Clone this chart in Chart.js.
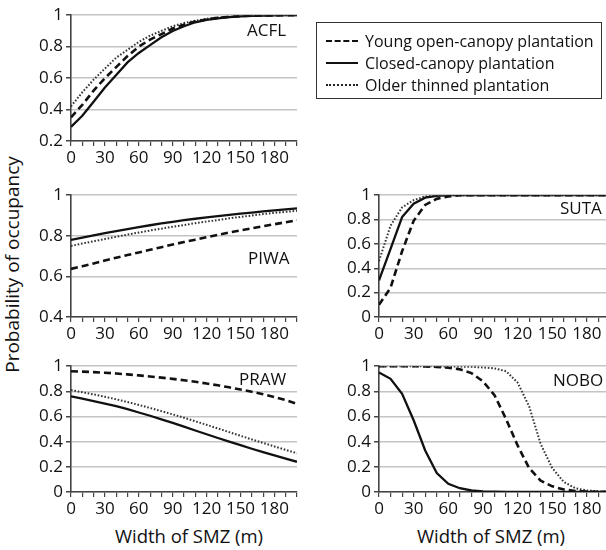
<!DOCTYPE html>
<html><head><meta charset="utf-8">
<script src="https://cdn.jsdelivr.net/npm/chart.js@4"></script>
<style>
html,body{margin:0;padding:0;background:#fff;overflow:hidden;width:606px;height:550px;}
body{position:relative;font-family:'Open Sans',sans-serif;color:#111;}
canvas{position:absolute;}
.lab{position:absolute;font-size:17px;line-height:1;white-space:nowrap;}
.xt{position:absolute;font-size:18.5px;line-height:1;width:240px;text-align:center;white-space:nowrap;}
.yt{position:absolute;font-size:19px;line-height:1;width:300px;text-align:center;white-space:nowrap;transform:rotate(-90deg);}
#legend{position:absolute;left:316px;top:22px;width:284px;height:75px;border:1.5px solid #333;}
.row{position:absolute;left:0;height:20px;font-size:16px;line-height:20px;white-space:nowrap;}
.row span.s{position:absolute;left:9px;top:9px;width:32px;height:0;}
.row span.t{position:absolute;left:48px;top:0;}
</style></head><body>

<canvas id="cACFL" width="277" height="167" style="left:25px;top:2px"></canvas>
<canvas id="cPIWA" width="277" height="163" style="left:25px;top:182px"></canvas>
<canvas id="cPRAW" width="277" height="167" style="left:25px;top:353px"></canvas>
<canvas id="cSUTA" width="282" height="163" style="left:333px;top:182px"></canvas>
<canvas id="cNOBO" width="282" height="167" style="left:333px;top:353px"></canvas>

<div class="lab" style="left:247px;top:21px">ACFL</div>
<div class="lab" style="left:248px;top:249px">PIWA</div>
<div class="lab" style="left:239px;top:370px">PRAW</div>
<div class="lab" style="left:560px;top:199px">SUTA</div>
<div class="lab" style="left:553px;top:371px">NOBO</div>

<div class="xt" style="left:69px;top:527px">Width of SMZ (m)</div>
<div class="xt" style="left:371px;top:527px">Width of SMZ (m)</div>
<div class="yt" style="left:-138px;top:255px">Probability of occupancy</div>

<div id="legend">
  <div class="row" style="top:8px"><span class="s" style="border-top:2.5px dashed #111"></span><span class="t">Young open-canopy plantation</span></div>
  <div class="row" style="top:30px"><span class="s" style="border-top:2.2px solid #111"></span><span class="t">Closed-canopy plantation</span></div>
  <div class="row" style="top:52px"><span class="s" style="border-top:2px dotted #222"></span><span class="t">Older thinned plantation</span></div>
</div>

<script>
// Width of SMZ (m)
const widths = [0,10,20,30,40,50,60,70,80,90,100,110,120,130,140,150,160,170,180,190,200];
const xTickLabels = [0,30,60,90,120,150,180];

// ACFL
const acflYoung  = [0.35,0.43,0.52,0.60,0.67,0.74,0.80,0.845,0.88,0.915,0.94,0.96,0.973,0.983,0.99,0.994,0.997,0.998,0.999,1,1];
const acflClosed = [0.29,0.36,0.45,0.54,0.62,0.70,0.76,0.81,0.86,0.90,0.93,0.955,0.97,0.98,0.988,0.993,0.996,0.998,0.999,1,1];
const acflOlder  = [0.42,0.51,0.59,0.66,0.73,0.78,0.83,0.87,0.90,0.93,0.95,0.965,0.977,0.985,0.99,0.994,0.997,0.998,0.999,1,1];

// PIWA
const piwaYoung  = [0.637,0.65,0.664,0.678,0.692,0.705,0.718,0.731,0.744,0.757,0.769,0.781,0.793,0.805,0.816,0.827,0.837,0.847,0.857,0.867,0.877];
const piwaClosed = [0.78,0.791,0.802,0.813,0.823,0.833,0.843,0.852,0.861,0.869,0.877,0.884,0.891,0.897,0.903,0.909,0.914,0.92,0.925,0.93,0.935];
const piwaOlder  = [0.75,0.762,0.773,0.784,0.795,0.806,0.816,0.826,0.835,0.845,0.853,0.862,0.87,0.878,0.886,0.893,0.90,0.907,0.913,0.918,0.923];

// PRAW
const prawYoung  = [0.96,0.957,0.953,0.948,0.942,0.935,0.927,0.918,0.909,0.899,0.888,0.876,0.862,0.848,0.832,0.815,0.797,0.777,0.755,0.73,0.70];
const prawClosed = [0.76,0.742,0.723,0.703,0.682,0.658,0.632,0.606,0.578,0.549,0.519,0.489,0.459,0.429,0.40,0.372,0.344,0.317,0.291,0.265,0.24];
const prawOlder  = [0.81,0.793,0.776,0.757,0.737,0.715,0.692,0.668,0.643,0.617,0.59,0.562,0.534,0.505,0.476,0.447,0.418,0.39,0.362,0.335,0.308];

// SUTA
const sutaYoung  = [0.10,0.24,0.54,0.79,0.92,0.97,0.99,1,1,1,1,1,1,1,1,1,1,1,1,1,1];
const sutaClosed = [0.30,0.56,0.82,0.93,0.98,0.995,1,1,1,1,1,1,1,1,1,1,1,1,1,1,1];
const sutaOlder  = [0.46,0.75,0.90,0.96,0.99,1,1,1,1,1,1,1,1,1,1,1,1,1,1,1,1];

// NOBO
const noboYoung  = [1,1,1,1,0.998,0.995,0.988,0.975,0.945,0.88,0.77,0.58,0.37,0.19,0.09,0.045,0.02,0.008,0.003,0.001,0];
const noboClosed = [0.95,0.90,0.78,0.57,0.33,0.15,0.065,0.03,0.012,0.005,0.002,0.001,0,0,0,0,0,0,0,0,0];
const noboOlder  = [1,1,1,1,1,0.999,0.998,0.997,0.995,0.99,0.983,0.96,0.87,0.68,0.38,0.19,0.08,0.03,0.012,0.005,0.002];

Chart.defaults.font.family = "'Open Sans', sans-serif";
Chart.defaults.color = '#111';

function series(arr){ return widths.map((x,i)=>({x:x, y:arr[i]})); }

function panel(id, yMin, young, closed, older){
  const ctx = document.getElementById(id);
  return new Chart(ctx, {
    type:'line',
    data:{datasets:[
      {label:'Young open-canopy plantation', data:series(young), borderColor:'#111', borderWidth:2.6, borderDash:[7,4], pointRadius:0, tension:0, fill:false},
      {label:'Closed-canopy plantation', data:series(closed), borderColor:'#111', borderWidth:2.3, pointRadius:0, tension:0, fill:false},
      {label:'Older thinned plantation', data:series(older), borderColor:'#333', borderWidth:2, borderDash:[1.6,1.8], pointRadius:0, tension:0, fill:false}
    ]},
    options:{
      responsive:false, animation:false, devicePixelRatio:1,
      layout:{padding:{top:12,right:5,left:0,bottom:0}},
      plugins:{legend:{display:false}, tooltip:{enabled:false}},
      scales:{
        x:{type:'linear', min:0, max:200,
          afterFit:s=>{s.height=28;},
          ticks:{stepSize:10, autoSkip:false, maxRotation:0, padding:2, font:{size:17},
            callback:v=> xTickLabels.includes(v) ? String(v) : ''},
          grid:{drawOnChartArea:false, drawTicks:true, tickLength:5, color:'#444', lineWidth:1.2},
          border:{display:true, color:'#444', width:1.6}
        },
        y:{min:yMin, max:1,
          afterFit:s=>{s.width=46;},
          ticks:{stepSize:0.2, padding:3, font:{size:17}, callback:v=> String(+v.toFixed(1))},
          grid:{color:'#c4c4c4', lineWidth:1.5, tickLength:5, tickColor:'#444', drawTicks:true},
          border:{display:true, color:'#444', width:1.6}
        }
      }
    }
  });
}

panel('cACFL', 0.2, acflYoung, acflClosed, acflOlder);
panel('cPIWA', 0.4, piwaYoung, piwaClosed, piwaOlder);
panel('cPRAW', 0, prawYoung, prawClosed, prawOlder);
panel('cSUTA', 0, sutaYoung, sutaClosed, sutaOlder);
panel('cNOBO', 0, noboYoung, noboClosed, noboOlder);
</script>
</body></html>
